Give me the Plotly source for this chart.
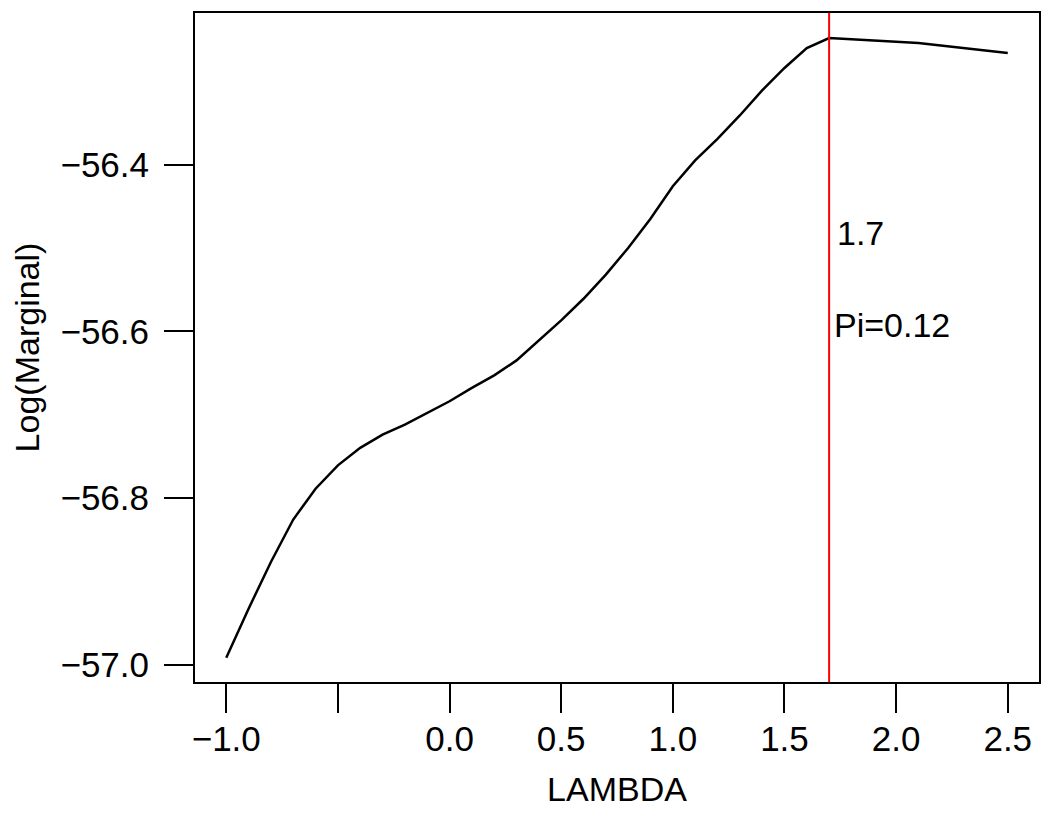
import plotly.graph_objects as go

lam = [-1.0, -0.9, -0.8, -0.7, -0.6, -0.5, -0.4, -0.3, -0.2, -0.1, 0.0,
       0.1, 0.2, 0.3, 0.4, 0.5, 0.6, 0.7, 0.8, 0.9, 1.0, 1.1, 1.2, 1.3,
       1.4, 1.5, 1.6, 1.7, 2.1, 2.5]
logmarg = [-56.992, -56.933, -56.877, -56.826, -56.789, -56.761, -56.740,
           -56.724, -56.712, -56.698, -56.684, -56.668, -56.653, -56.635,
           -56.611, -56.587, -56.561, -56.532, -56.500, -56.465, -56.426,
           -56.395, -56.369, -56.341, -56.311, -56.284, -56.260, -56.248,
           -56.254, -56.266]

best_lambda = 1.7
pi_text = "Pi=0.12"

x_tickvals = [-1.0, -0.5, 0.0, 0.5, 1.0, 1.5, 2.0, 2.5]
x_ticktext = ["\u22121.0", "", "0.0", "0.5", "1.0", "1.5", "2.0", "2.5"]
y_tickvals = [-57.0, -56.8, -56.6, -56.4]
y_ticktext = ["\u221257.0", "\u221256.8", "\u221256.6", "\u221256.4"]

FONT = "Liberation Sans, Arial, sans-serif"

fig = go.Figure()
fig.add_trace(go.Scatter(x=lam, y=logmarg, mode="lines",
                         line=dict(color="black", width=2.5), showlegend=False))

fig.add_shape(type="line", xref="x", yref="paper", x0=best_lambda, x1=best_lambda,
              y0=0, y1=1, line=dict(color="red", width=2))

fig.add_annotation(x=best_lambda, y=-56.482, text=f"{best_lambda}", showarrow=False,
                   xanchor="left", yanchor="middle", xshift=6,
                   font=dict(family=FONT, size=34, color="black"))
fig.add_annotation(x=best_lambda, y=-56.592, text=pi_text, showarrow=False,
                   xanchor="left", yanchor="middle", xshift=3,
                   font=dict(family=FONT, size=34, color="black"))

fig.update_layout(
    width=1050, height=817,
    margin=dict(l=187, r=19, t=5, b=143, autoexpand=False),
    paper_bgcolor="white", plot_bgcolor="white",
    font=dict(family=FONT, size=34, color="black"),
)
fig.update_xaxes(range=[-1.14, 2.64], showgrid=False, zeroline=False,
                 showline=True, linecolor="black", linewidth=2, mirror=True,
                 ticks="outside", ticklen=29, tickwidth=2, tickcolor="black",
                 tickvals=x_tickvals, ticktext=x_ticktext,
                 tickfont=dict(size=35), ticklabelstandoff=-4, automargin=False,
                 title=dict(text="LAMBDA", font=dict(size=34), standoff=20))
fig.update_yaxes(range=[-57.021, -56.218], showgrid=False, zeroline=False,
                 showline=True, linecolor="black", linewidth=2, mirror=True,
                 ticks="outside", ticklen=29, tickwidth=2, tickcolor="black",
                 tickvals=y_tickvals, ticktext=y_ticktext,
                 tickfont=dict(size=35), ticklabelstandoff=8, automargin=False,
                 title=dict(text="Log(Marginal)", font=dict(size=34), standoff=30))

fig.write_html("out.html")
